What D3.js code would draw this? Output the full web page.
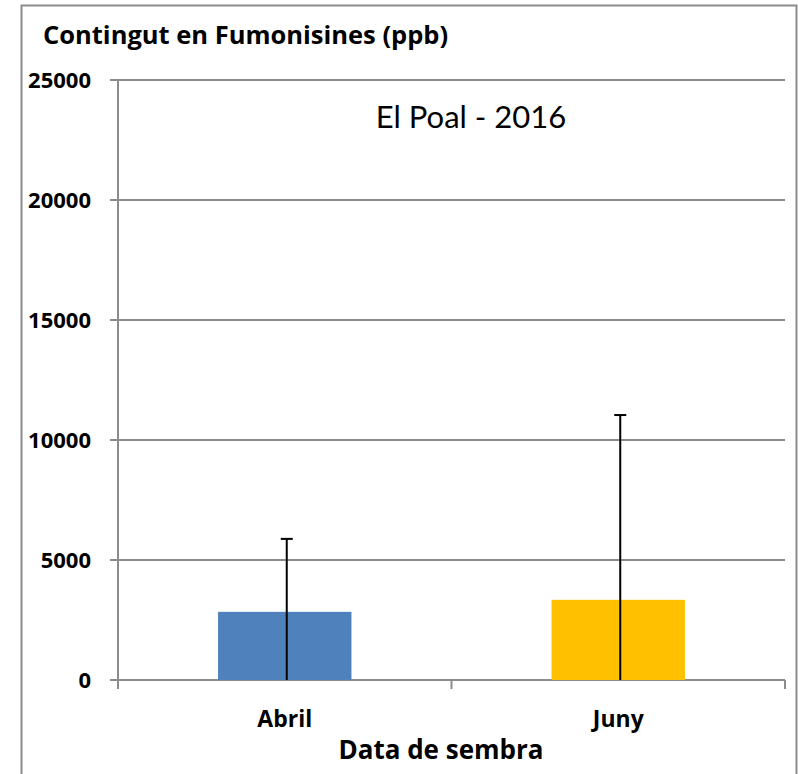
<!DOCTYPE html>
<html>
<head>
<meta charset="utf-8">
<script src="https://cdn.jsdelivr.net/npm/d3@7"></script>
<style>
  body { margin: 0; background: #fff; }
  svg { display: block; font-family: "Open Sans", Lato, sans-serif; }
  .bold-label { font-weight: bold; font-size: 22px; fill: #000; }
</style>
</head>
<body>
<div id="chart"></div>
<script>
// data
const categories = ["Abril", "Juny"];
const values = [2840, 3340];
const errorTops = [5880, 11040];
const colors = ["#4F81BD", "#FFC000"];
const yTicks = [0, 5000, 10000, 15000, 20000, 25000];

const width = 798;
const height = 774;
const margin = { top: 80, right: 13, bottom: 94, left: 118 };

const svg = d3.select("#chart")
  .append("svg")
  .attr("width", width)
  .attr("height", height);

// outer frame
svg.append("rect")
  .attr("x", 21.5)
  .attr("y", 5.5)
  .attr("width", 775)
  .attr("height", 780)
  .attr("fill", "none")
  .attr("stroke", "#8c8c8c")
  .attr("stroke-width", 2);

const x = d3.scaleBand()
  .domain(categories)
  .range([margin.left, width - margin.right])
  .paddingInner(0.6)
  .paddingOuter(0.3);

const y = d3.scaleLinear()
  .domain([0, 25000])
  .range([height - margin.bottom, margin.top]);

// gridlines
svg.append("g")
  .selectAll("line")
  .data(yTicks)
  .join("line")
  .attr("x1", margin.left - 8)
  .attr("x2", width - margin.right)
  .attr("y1", (d) => y(d))
  .attr("y2", (d) => y(d))
  .attr("stroke", "#8c8c8c")
  .attr("stroke-width", 2);

// y tick labels
svg.append("g")
  .selectAll("text")
  .data(yTicks)
  .join("text")
  .attr("class", "bold-label")
  .attr("x", 91)
  .attr("y", (d) => y(d))
  .attr("dy", "0.36em")
  .attr("text-anchor", "end")
  .text((d) => d);

// y axis line
svg.append("line")
  .attr("x1", margin.left)
  .attr("x2", margin.left)
  .attr("y1", y(25000))
  .attr("y2", y(0) + 9)
  .attr("stroke", "#8c8c8c")
  .attr("stroke-width", 2);

// x category ticks (band edges)
const edges = [x.range()[0]].concat(categories.map((c) => x(c) + x.bandwidth() + x.step() * x.paddingInner() / 2));
edges[edges.length - 1] = x.range()[1];
svg.append("g")
  .selectAll("line")
  .data(edges)
  .join("line")
  .attr("x1", (d) => d)
  .attr("x2", (d) => d)
  .attr("y1", y(0))
  .attr("y2", y(0) + 9)
  .attr("stroke", "#8c8c8c")
  .attr("stroke-width", 2);

// bars
svg.append("g")
  .selectAll("rect")
  .data(categories)
  .join("rect")
  .attr("x", (d) => x(d))
  .attr("width", x.bandwidth())
  .attr("y", (d, i) => y(values[i]))
  .attr("height", (d, i) => y(0) - y(values[i]))
  .attr("fill", (d, i) => colors[i]);

// error bars (upper only)
const err = svg.append("g").attr("stroke", "#000").attr("stroke-width", 2);
categories.forEach((c, i) => {
  const cx = x(c) + x.bandwidth() / 2 + 2;
  err.append("line")
    .attr("x1", cx).attr("x2", cx)
    .attr("y1", y(0)).attr("y2", y(errorTops[i]));
  err.append("line")
    .attr("x1", cx - 6).attr("x2", cx + 6)
    .attr("y1", y(errorTops[i])).attr("y2", y(errorTops[i]));
});

// x labels
svg.append("g")
  .selectAll("text")
  .data(categories)
  .join("text")
  .attr("class", "bold-label")
  .attr("x", (d) => x(d) + x.bandwidth() / 2)
  .attr("y", 727)
  .attr("text-anchor", "middle")
  .style("font-size", "23px")
  .text((d) => d);

// titles
svg.append("text")
  .attr("class", "bold-label")
  .attr("x", 43)
  .attr("y", 44)
  .style("font-size", "25.5px")
  .text("Contingut en Fumonisines (ppb)");

svg.append("text")
  .attr("x", 471)
  .attr("y", 128)
  .attr("text-anchor", "middle")
  .style("font-family", "Lato, sans-serif")
  .style("font-size", "31px")
  .text("El Poal - 2016");

svg.append("text")
  .attr("class", "bold-label")
  .attr("x", 441)
  .attr("y", 759)
  .attr("text-anchor", "middle")
  .style("font-size", "26px")
  .text("Data de sembra");
</script>
</body>
</html>
